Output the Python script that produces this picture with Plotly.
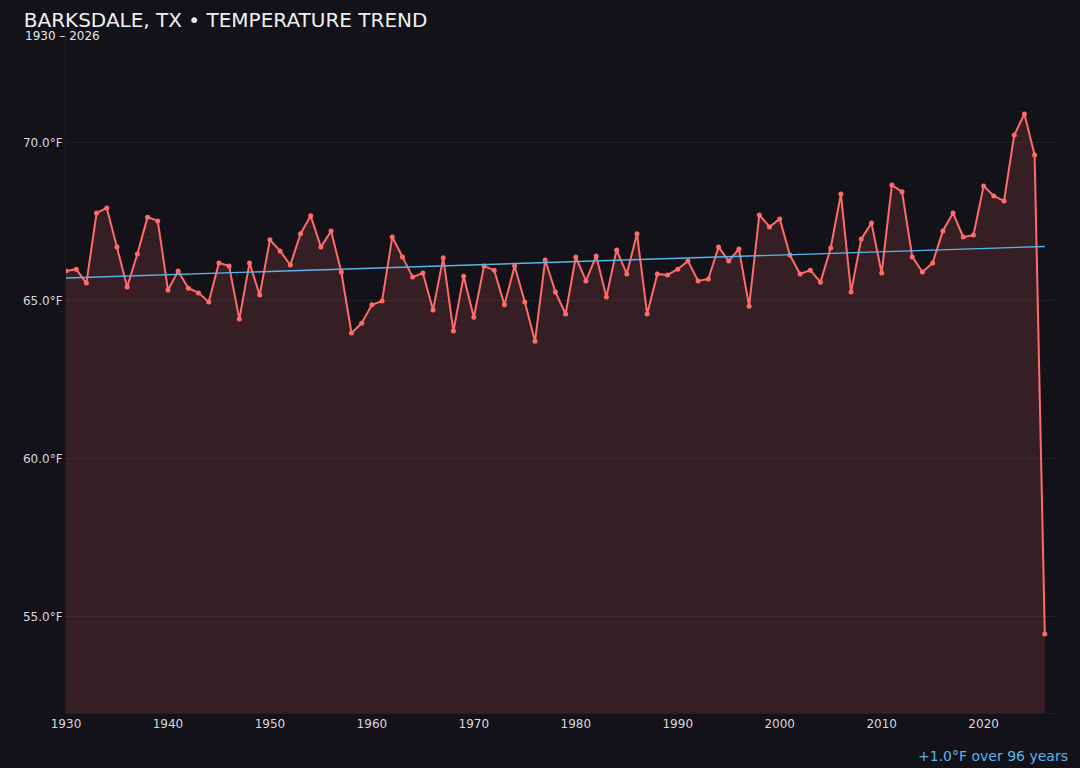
import plotly.graph_objects as go

# yearly mean temperature, Barksdale TX
years = list(range(1930, 2027))
temps = [
    65.94, 66.00, 65.56, 67.78, 67.94, 66.70, 65.44, 66.48, 67.65, 67.53,
    65.34, 65.94, 65.40, 65.25, 64.96, 66.20, 66.10, 64.42, 66.20, 65.18,
    66.93, 66.58, 66.13, 67.12, 67.69, 66.70, 67.21, 65.91, 63.98, 64.29,
    64.87, 64.99, 67.02, 66.39, 65.75, 65.88, 64.71, 66.36, 64.04, 65.78,
    64.48, 66.10, 65.97, 64.87, 66.10, 64.96, 63.72, 66.29, 65.28, 64.58,
    66.39, 65.63, 66.42, 65.12, 66.61, 65.85, 67.12, 64.58, 65.85, 65.82,
    66.00, 66.26, 65.63, 65.69, 66.70, 66.26, 66.64, 64.83, 67.72, 67.34,
    67.59, 66.45, 65.85, 65.97, 65.59, 66.67, 68.38, 65.28, 66.96, 67.46,
    65.88, 68.67, 68.45, 66.39, 65.91, 66.20, 67.21, 67.78, 67.02, 67.08,
    68.64, 68.32, 68.16, 70.25, 70.92, 69.62, 54.44,
]
trend_years = [1930, 2026]
trend_vals = [65.72, 66.72]

bg = "#131218"
red = "#ff6b6b"
blue = "#5ab4ea"

fig = go.Figure()
fig.add_trace(go.Scatter(
    x=years, y=temps, mode="lines+markers",
    line=dict(color=red, width=2),
    marker=dict(size=5, color=red),
    fill="tozeroy", fillcolor="rgba(255,107,107,0.15)",
    showlegend=False,
))
fig.add_trace(go.Scatter(
    x=trend_years, y=trend_vals, mode="lines",
    line=dict(color=blue, width=1.4),
    showlegend=False,
))

ymin = min(temps) - 2.5
ymax = max(temps) + 2.5

fig.update_layout(
    width=1080, height=768,
    paper_bgcolor=bg, plot_bgcolor=bg,
    margin=dict(l=66, r=25, t=35, b=55),
    font=dict(family="DejaVu Sans", color="#d8d8dc", size=12),
    title=dict(text="BARKSDALE, TX • TEMPERATURE TREND", x=0.022, xanchor="left",
               y=0.974, yanchor="middle", font=dict(size=20, color="#f0f0f2")),
    xaxis=dict(range=[1930, 2027], dtick=10, showgrid=False, zeroline=False,
               showline=True, linecolor="rgba(255,255,255,0.07)",
               ticks="", tickfont=dict(size=12, color="#d8d8dc")),
    yaxis=dict(range=[ymin, ymax], dtick=5, ticksuffix="°F", tickformat=".1f",
               showgrid=True, gridcolor="rgba(255,255,255,0.05)", zeroline=False,
               showline=True, linecolor="rgba(255,255,255,0.06)",
               minor=dict(dtick=1, showgrid=True, gridcolor="rgba(255,255,255,0.015)"),
               tickfont=dict(size=12, color="#d8d8dc")),
    annotations=[
        dict(text="1930 – 2026", xref="paper", yref="paper", x=-0.043, y=1.0,
             xanchor="left", yanchor="middle", showarrow=False, yshift=-1,
             font=dict(size=12, color="#e6e6e8")),
        dict(text="+1.0°F over 96 years", xref="paper", yref="paper", x=1.015, y=-0.063,
             xanchor="right", yanchor="middle", showarrow=False,
             font=dict(size=14, color=blue)),
    ],
)

fig.write_html("out.html", config={"displayModeBar": False},
               post_script="document.body.style.margin='0';document.body.style.background='#131218';")
